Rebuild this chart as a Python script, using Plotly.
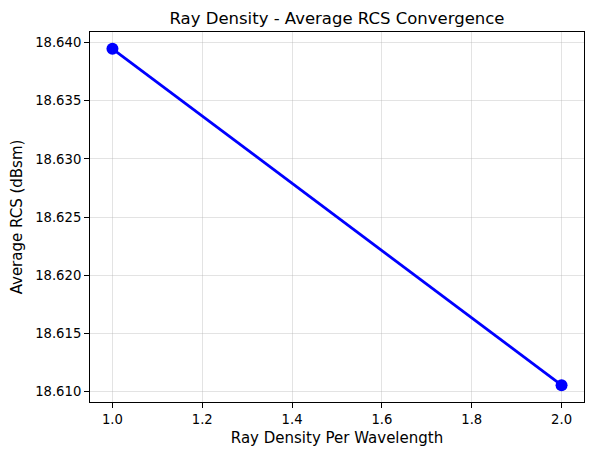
import plotly.graph_objects as go

ray_density = [1.0, 2.0]
avg_rcs = [18.63948, 18.61052]
x_ticks = [1.0, 1.2, 1.4, 1.6, 1.8, 2.0]
y_ticks = [18.610, 18.615, 18.620, 18.625, 18.630, 18.635, 18.640]

fig = go.Figure()
fig.add_trace(go.Scatter(
    x=ray_density, y=avg_rcs, mode="lines+markers",
    line=dict(color="#0000ff", width=2.8),
    marker=dict(color="#0000ff", size=12),
    showlegend=False,
))

font = "DejaVu Sans"
axis_common = dict(
    showline=True, linecolor="black", linewidth=1.1, mirror=True,
    ticks="outside", ticklen=5, tickcolor="black", tickwidth=1.1,
    showgrid=True, gridcolor="rgba(176,176,176,0.35)", gridwidth=1,
    zeroline=False, tickfont=dict(family=font, size=13.2, color="black"),
)
fig.update_xaxes(
    range=[0.95, 2.05], tickvals=x_ticks, ticktext=[f"{v:.1f}" for v in x_ticks],
    title=dict(text="Ray Density Per Wavelength", font=dict(family=font, size=15, color="black"), standoff=6),
    **axis_common,
)
fig.update_yaxes(
    range=[18.60907, 18.64093], tickvals=y_ticks, ticktext=[f"{v:.3f}" for v in y_ticks],
    title=dict(text="Average RCS (dBsm)", font=dict(family=font, size=15, color="black"), standoff=8),
    **axis_common,
)
fig.update_layout(
    width=586, height=448,
    margin=dict(l=81, r=9, t=24, b=54),
    plot_bgcolor="white", paper_bgcolor="white",
    title=dict(text="Ray Density - Average RCS Convergence", x=0.5, xanchor="center",
               xref="paper", y=0.978, yanchor="middle",
               font=dict(family=font, size=16.5, color="black")),
)
fig.write_html("out.html")
